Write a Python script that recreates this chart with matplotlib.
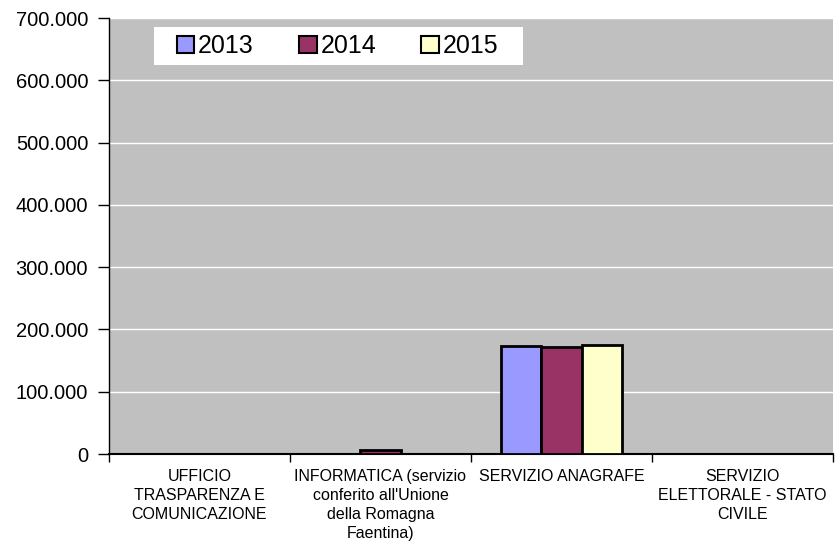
import matplotlib.pyplot as plt
from matplotlib.patches import Rectangle
import numpy as np

plt.rcParams['font.family'] = ['Liberation Sans', 'DejaVu Sans']

categorie = ['UFFICIO\nTRASPARENZA E\nCOMUNICAZIONE',
             "INFORMATICA (servizio\nconferito all'Unione\ndella Romagna\nFaentina)",
             'SERVIZIO ANAGRAFE',
             'SERVIZIO\nELETTORALE - STATO\nCIVILE']
anni = ['2013', '2014', '2015']
valori_2013 = [0, 0, 173300, 0]
valori_2014 = [0, 7000, 171300, 0]
valori_2015 = [0, 0, 175400, 0]
colori = ['#9999ff', '#993366', '#ffffcc']

fig = plt.figure(figsize=(8.36, 5.5), dpi=100)
ax = fig.add_axes([109 / 836, 1 - 454 / 550, 724 / 836, 436 / 550])
ax.set_facecolor('#c0c0c0')

x = np.arange(len(categorie))
w = 0.224
serie = [valori_2013, valori_2014, valori_2015]
for i, (vals, anno, col) in enumerate(zip(serie, anni, colori)):
    ax.bar(x + (i - 1) * w, vals, w, color=col, edgecolor='black',
           linewidth=2, label=anno, zorder=3)

ax.set_xlim(-0.5, 3.5)
ax.set_ylim(0, 700000)
yt = np.arange(0, 700001, 100000)
ax.set_yticks(yt)
ax.set_yticklabels(['0'] + ['{:,}'.format(v).replace(',', '.') for v in yt[1:]],
                   fontsize=14.5)
ax.yaxis.grid(True, color='white', linewidth=1, zorder=0)
ax.set_axisbelow(True)

ax.set_xticks(np.arange(-0.5, 4, 1))
ax.set_xticklabels([])
ax.set_xticks(x, minor=True)
ax.set_xticklabels(categorie, minor=True, fontsize=11.5, va='top', ha='center',
                   linespacing=1.33)
ax.tick_params(axis='x', which='minor', length=0, pad=11)
ax.tick_params(axis='x', which='major', length=6, width=1, direction='out')
ax.tick_params(axis='y', length=8, width=1, direction='out', pad=7)

for s in ['top', 'right']:
    ax.spines[s].set_visible(False)
ax.spines['left'].set_linewidth(1)
ax.spines['bottom'].set_linewidth(1.5)

# riquadro bianco della legenda
ax.add_patch(Rectangle((45 / 724, 389 / 436), 369 / 724, 38 / 436,
                       transform=ax.transAxes, facecolor='white',
                       edgecolor='none', zorder=4))
leg = ax.legend(ncol=3, loc='center left', bbox_to_anchor=(68 / 724, 408 / 436),
                fontsize=18, frameon=False,
                handlelength=0.7, handleheight=0.7, handletextpad=0.15,
                columnspacing=1.8, borderpad=0, borderaxespad=0)
leg.set_zorder(5)
for h in leg.legend_handles:
    h.set_linewidth(1.5)

fig.savefig('out.png', dpi=100)
